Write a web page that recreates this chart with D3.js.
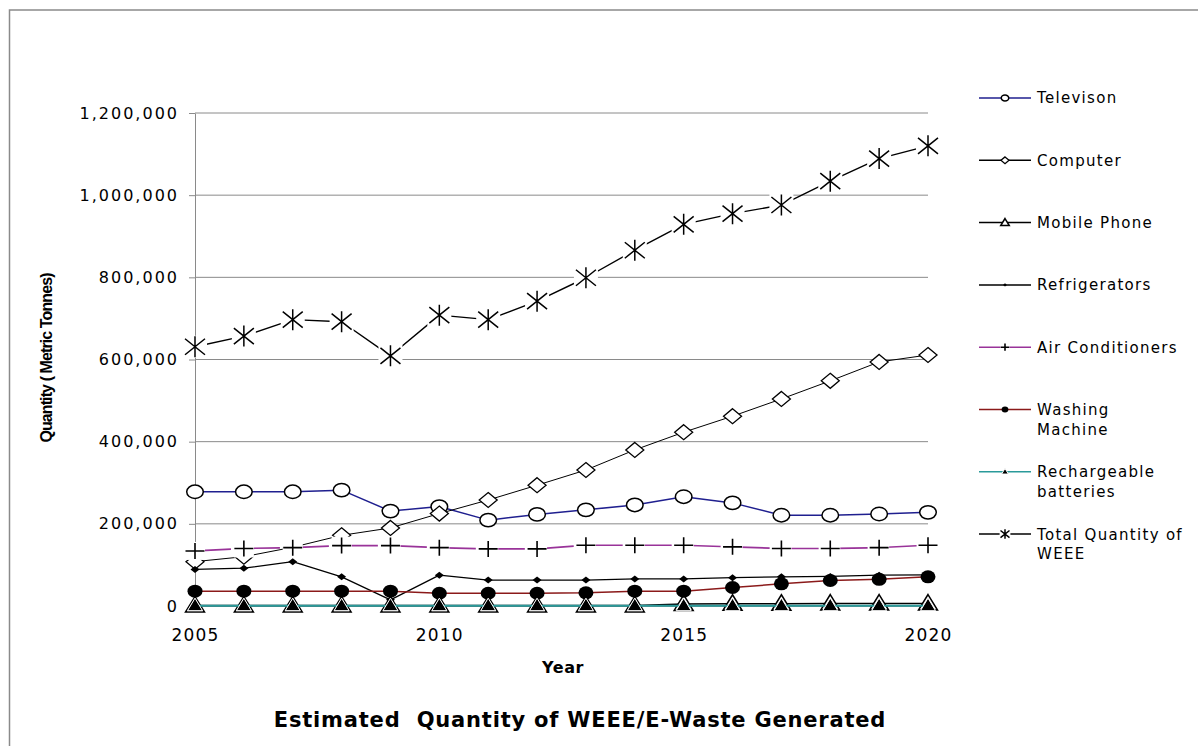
<!DOCTYPE html>
<html><head><meta charset="utf-8">
<script src="https://cdn.jsdelivr.net/npm/d3@7"></script>
<style>body{margin:0;background:#fff}svg{display:block}</style>
</head><body>
<svg id="c" width="1198" height="746"></svg>
<script>
// ---------- data ----------
const years = [2005,2006,2007,2008,2009,2010,2011,2012,2013,2014,2015,2016,2017,2018,2019,2020];
const yearTicks = [2005,2010,2015,2020];
const quantityTicks = [0,200000,400000,600000,800000,1000000,1200000];

const television = [278000,278000,278000,282000,231000,242000,209000,223000,234000,246000,266000,251000,221000,221000,224000,228000];
const computer = [108000,120000,143000,172000,190000,225000,258000,294000,331000,380000,423000,462000,504000,548000,594000,611000];
const mobilePhone = [1000,1000,1000,1000,1000,1000,1000,1000,1000,1500,5000,5500,5500,6000,6000,6000];
const refrigerators = [89000,92000,108000,71000,15000,75000,63000,63000,63000,66000,66000,69000,71000,72000,75000,76000];
const airConditioners = [134000,140000,142000,147000,147000,142000,139000,139000,148000,148000,148000,144000,140000,140000,142000,148000];
const washingMachine = [36000,36000,36000,36000,36000,31000,31000,31000,32000,36000,36000,45000,54000,62000,65000,71000];
const rechargeableBatteries = [800,800,800,800,800,800,800,800,800,800,800,800,800,800,800,800];
const totalWEEE = [631000,657000,697000,692000,609000,708000,697000,742000,799000,866000,929000,955000,976000,1034000,1089000,1120000];

const seriesNames = [["Televison"],["Computer"],["Mobile Phone"],["Refrigerators"],["Air Conditioners"],["Washing","Machine"],["Rechargeable","batteries"],["Total Quantity of","WEEE"]];
const seriesValues = [television, computer, mobilePhone, refrigerators, airConditioners, washingMachine, rechargeableBatteries, totalWEEE];

// ---------- styles ----------
const styles = [
  {color:"#1f1f8f", width:1.5, marker:"circle"},
  {color:"#000000", width:1, marker:"diamond"},
  {color:"#000000", width:1.5, marker:"triOpen"},
  {color:"#000000", width:1.3, marker:"smallDiamond"},
  {color:"#993399", width:1.6, marker:"plus", dash:"30,19", dashOffset:43},
  {color:"#8b1a1a", width:1.5, marker:"dot"},
  {color:"#2a9a9a", width:2, marker:"triFilled"},
  {color:"#000000", width:1.4, marker:"asterisk"}
];

const svg = d3.select("#c");
const FONT = "DejaVu Sans";

// outer frame
svg.append("rect").attr("x",9.5).attr("y",10).attr("width",1400).attr("height",900)
  .attr("fill","none").attr("stroke","#8a8a8a").attr("stroke-width",1.5);

const x = d3.scaleLinear().domain([2005,2020]).range([195,928]);
const y = d3.scaleLinear().domain([0,1200000]).range([606,113]);

// gridlines
svg.append("g").selectAll("line").data(quantityTicks.slice(1)).join("line")
  .attr("x1",195).attr("x2",928).attr("y1",d=>y(d)).attr("y2",d=>y(d))
  .attr("stroke","#8a8a8a").attr("stroke-width",1);

// y axis
const yAxis = d3.axisLeft(y).tickValues(quantityTicks).tickFormat(d3.format(",")).tickSize(6).tickSizeOuter(0).tickPadding(10);
const gy = svg.append("g").attr("transform","translate(195,0)").call(yAxis);
gy.select(".domain").attr("stroke","#8a8a8a");
gy.selectAll(".tick line").attr("stroke","#8a8a8a");
gy.selectAll("text").attr("font-family",FONT).attr("font-size",16).attr("letter-spacing","2px").attr("fill","#000");

// x axis
const xAxis = d3.axisBottom(x).tickValues(yearTicks).tickFormat(d3.format("d")).tickSize(0).tickSizeOuter(0).tickPadding(23);
const gx = svg.append("g").attr("transform","translate(0,606)").call(xAxis);
gx.select(".domain").attr("stroke","#8a8a8a");
gx.selectAll("text").attr("font-family",FONT).attr("font-size",17).attr("letter-spacing","1.2px").attr("fill","#000");

// markers
function marker(g, type, k) {
  switch(type) {
    case "circle":
      g.append("ellipse").attr("rx",8.3*k).attr("ry",6.7*k).attr("fill","#fff").attr("stroke","#000").attr("stroke-width",1.5);
      break;
    case "diamond":
      g.append("path").attr("d",`M0,${-7.5*k}L${9*k},0L0,${7.5*k}L${-9*k},0Z`).attr("fill","#fff").attr("stroke","#000").attr("stroke-width",1.3);
      break;
    case "triOpen":
      g.append("path").attr("d",`M0,${-9*k}L${9.5*k},${6.5*k}L${-9.5*k},${6.5*k}Z`).attr("fill","#fff").attr("stroke","#000").attr("stroke-width",1.5);
      break;
    case "smallDiamond":
      g.append("path").attr("d",`M0,${-3.5*k}L${4.5*k},0L0,${3.5*k}L${-4.5*k},0Z`).attr("fill","#000");
      break;
    case "plus":
      g.append("rect").attr("x",-10*k).attr("y",-9*k).attr("width",20*k).attr("height",18*k).attr("fill","#fff");
      g.append("path").attr("d",`M${-9.5*k},0H${9.5*k}M0,${-8*k}V${8*k}`).attr("stroke","#000").attr("stroke-width",1.6);
      break;
    case "dot":
      g.append("ellipse").attr("rx",7.5*k).attr("ry",6.5*k).attr("fill","#000");
      break;
    case "triFilled":
      g.append("path").attr("d",`M0,${-7.5*k}L${7.5*k},${5*k}L${-7.5*k},${5*k}Z`).attr("fill","#000").attr("stroke","#fff").attr("stroke-width",1);
      break;
    case "asterisk":
      g.append("rect").attr("x",-12*k).attr("y",-11*k).attr("width",24*k).attr("height",22*k).attr("fill","#fff");
      g.append("path").attr("d",`M${-10*k},${-8*k}L${10*k},${8*k}M${10*k},${-8*k}L${-10*k},${8*k}M0,${-10.5*k}V${10.5*k}`)
        .attr("stroke","#000").attr("stroke-width",1.5).attr("fill","none");
      break;
  }
}

const line = d3.line().x((d,i)=>x(years[i])).y(d=>y(d));

seriesValues.forEach((vals, si) => {
  const st = styles[si];
  const g = svg.append("g");
  const p = g.append("path").attr("d",line(vals)).attr("fill","none")
    .attr("stroke",st.color).attr("stroke-width",st.width).attr("stroke-linejoin","round");
  if (st.dash) p.attr("stroke-dasharray",st.dash).attr("stroke-dashoffset",st.dashOffset);
  vals.forEach((v,i) => {
    const mg = g.append("g").attr("transform",`translate(${x(years[i])},${y(v)})`);
    marker(mg, st.marker, 1);
  });
});

// legend
const legendTop = 98, legendStep = 62.3;
seriesNames.forEach((names, si) => {
  const st = styles[si];
  const ly = legendTop + si*legendStep;
  const g = svg.append("g").attr("transform",`translate(0,${ly})`);
  g.append("line").attr("x1",979).attr("x2",1031).attr("y1",0).attr("y2",0)
    .attr("stroke",st.color).attr("stroke-width",1.5);
  const mg = g.append("g").attr("transform","translate(1005,0)");
  marker(mg, st.marker, 0.45);
  names.forEach((t, j) => {
    g.append("text").attr("x",1037).attr("y",j*20).attr("dy","0.36em")
      .attr("font-family",FONT).attr("font-size",15).attr("letter-spacing","1.3px").text(t);
  });
});

// axis titles
svg.append("text").attr("transform","translate(46,358) rotate(-90)").attr("text-anchor","middle").attr("dy","0.36em")
  .attr("font-family","Liberation Sans").attr("font-weight","bold").attr("font-size",16).attr("letter-spacing","-0.9px")
  .text("Quantity ( Metric Tonnes)");
svg.append("text").attr("x",563).attr("y",667).attr("text-anchor","middle").attr("dy","0.36em")
  .attr("font-family",FONT).attr("font-weight","bold").attr("font-size",16).attr("letter-spacing","0.6px").text("Year");
svg.append("text").attr("x",580).attr("y",719).attr("text-anchor","middle").attr("dy","0.36em")
  .attr("font-family",FONT).attr("font-weight","bold").attr("font-size",21).attr("letter-spacing","0.8px")
  .style("white-space","pre").text("Estimated  Quantity of WEEE/E-Waste Generated");
</script>
</body></html>
